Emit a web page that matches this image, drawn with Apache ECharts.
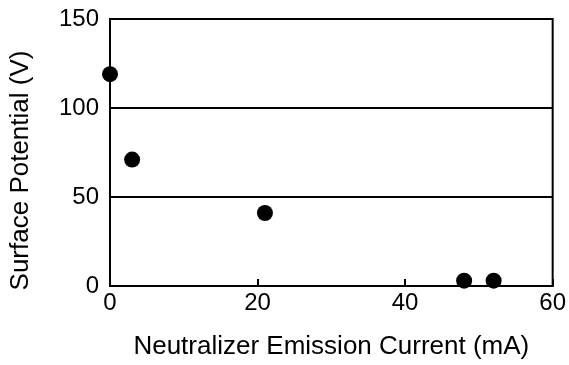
<!DOCTYPE html>
<html><head><meta charset="utf-8">
<script src="https://cdn.jsdelivr.net/npm/echarts@6/dist/echarts.min.js"></script>
<style>html,body{margin:0;padding:0;background:#fff}#c{width:569px;height:365px}</style>
</head><body><div id="c"></div>
<script>
const currents = [0, 3, 21, 48, 52];
const potentials = [119, 71, 41, 3, 3];
const xTicks = [0, 20, 40, 60];
const yTicks = [0, 50, 100, 150];
const xName = 'Neutralizer Emission Current (mA)';
const yName = 'Surface Potential (V)';

const chart = echarts.init(document.getElementById('c'), null, {renderer: 'canvas'});
const font = '"Liberation Sans", Arial, sans-serif';
chart.setOption({
  animation: false,
  backgroundColor: '#fff',
  grid: {left: 108, right: 13, top: 19, bottom: 78, show: true, borderColor: '#000', borderWidth: 2, backgroundColor: 'transparent'},
  xAxis: {
    type: 'value', min: xTicks[0], max: xTicks[xTicks.length-1], interval: 20,
    name: xName, nameLocation: 'middle', nameGap: 48,
    nameTextStyle: {fontFamily: font, fontSize: 26, color: '#000'},
    axisLine: {show: true, lineStyle: {color: '#000', width: 2}},
    axisTick: {show: true, inside: true, length: 7, lineStyle: {color: '#000', width: 2}},
    axisLabel: {fontFamily: font, fontSize: 24, color: '#000', margin: 5},
    splitLine: {show: false}
  },
  yAxis: {
    type: 'value', min: yTicks[0], max: yTicks[yTicks.length-1], interval: 50,
    name: yName, nameLocation: 'middle', nameGap: 76, nameRotate: 90,
    nameTextStyle: {fontFamily: font, fontSize: 26, color: '#000', padding: [0, 36, 0, 0]},
    axisLine: {show: true, lineStyle: {color: '#000', width: 2}},
    axisTick: {show: false},
    axisLabel: {fontFamily: font, fontSize: 24, color: '#000', margin: 11},
    splitLine: {show: true, lineStyle: {color: '#000', width: 2}}
  },
  series: [{
    type: 'scatter',
    data: currents.map((x, i) => [x, potentials[i]]),
    symbol: 'circle', symbolSize: 16,
    itemStyle: {color: '#000', opacity: 1},
    clip: false
  }]
});
</script></body></html>
